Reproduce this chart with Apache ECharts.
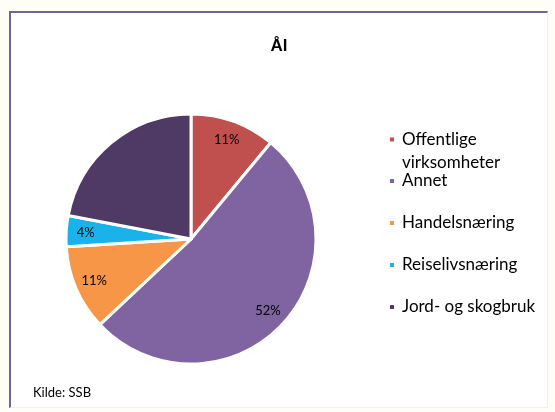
<!DOCTYPE html>
<html>
<head>
<meta charset="utf-8">
<script src="https://cdn.jsdelivr.net/npm/echarts@6/dist/echarts.min.js"></script>
<style>
  html, body { margin: 0; padding: 0; background: #fffef6; }
  #frame {
    position: absolute; left: 9px; top: 11px; width: 536px; height: 394px;
    background: #fff;
    border-left: 2px solid #6f6690; border-top: 2px solid #6f6690;
    border-right: 1px solid #f4f0e0; border-bottom: 1px solid #f4f0e0;
  }
  #chart { width: 536px; height: 394px; }
</style>
</head>
<body>
<div id="frame"><div id="chart"></div></div>
<script>
const categories = ['Offentlige virksomheter', 'Annet', 'Handelsnæring', 'Reiselivsnæring', 'Jord- og skogbruk'];
const shares = [11, 52, 11, 4, 22];
const colors = ['#c0504d', '#8064a2', '#f79646', '#1ab2ea', '#4e3a64'];
const showLabel = [true, true, true, true, false];

// legend row positions (relative to the frame)
const legendTops = [87, 153, 195, 237, 279];

const chart = echarts.init(document.getElementById('chart'));

const pieData = categories.map((name, i) => ({
  name: name,
  value: shares[i],
  itemStyle: { color: colors[i] }
}));

// first entry wraps onto two lines; a blank leading line keeps its marker on line one
const legends = categories.map((name, i) => {
  const multi = i === 0;
  return {
    data: [name],
    left: 372,
    top: legendTops[i],
    icon: 'rect',
    itemWidth: 6,
    itemHeight: 6,
    itemGap: 0,
    selectedMode: false,
    formatter: multi ? n => ' \n' + n.replace(' ', '\n') : n => n,
    textStyle: { fontFamily: 'Lato', fontSize: 17, color: '#000', lineHeight: multi ? 23 : 20, padding: [0, 0, 0, 2] }
  };
});

chart.setOption({
  animation: false,
  title: {
    text: 'Ål',
    left: 263,
    top: 20,
    textAlign: 'center',
    textStyle: { fontFamily: 'Liberation Sans', fontSize: 17, fontWeight: 'bold', color: '#000' }
  },
  legend: legends,
  graphic: [{
    type: 'text',
    left: 22,
    top: 373,
    style: { text: 'Kilde: SSB', font: '13px Lato', fill: '#000' }
  }],
  series: [
    {
      type: 'pie',
      center: [180, 226],
      radius: 125,
      startAngle: 90,
      clockwise: true,
      label: { show: false },
      labelLine: { show: false },
      itemStyle: { borderColor: '#fff', borderWidth: 3 },
      emphasis: { disabled: true },
      data: pieData
    },
    {
      type: 'pie',
      center: [180, 226],
      radius: [80, 125],
      startAngle: 90,
      clockwise: true,
      silent: true,
      labelLine: { show: false },
      itemStyle: { color: 'transparent', borderWidth: 0 },
      emphasis: { disabled: true },
      label: {
        position: 'inside',
        fontFamily: 'Lato',
        fontSize: 13,
        color: '#000',
        formatter: p => p.value + '%'
      },
      data: categories.map((name, i) => ({
        name: name,
        value: shares[i],
        label: { show: showLabel[i] },
        itemStyle: { color: 'transparent' }
      }))
    }
  ]
});
</script>
</body>
</html>
